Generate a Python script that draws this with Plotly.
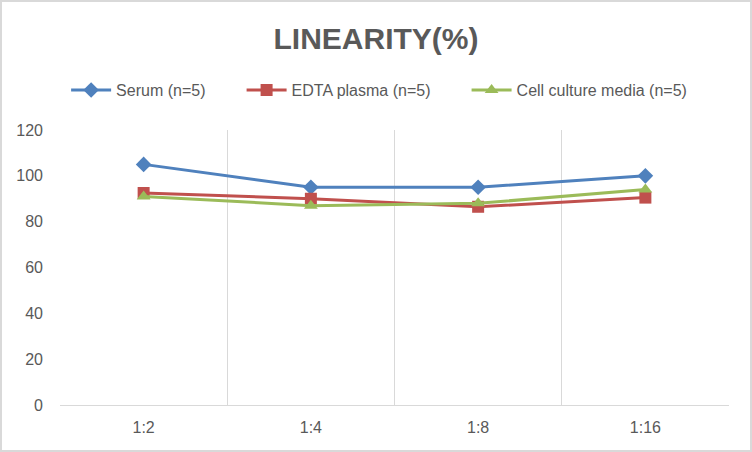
import plotly.graph_objs as go

# dilution points and recovery values
dilutions = ['1:2', '1:4', '1:8', '1:16']
serum = [105, 95, 95, 100]
edta_plasma = [92.5, 90, 86.5, 90.5]
cell_culture = [91, 87, 88, 94]

series_names = ['Serum (n=5)', 'EDTA plasma (n=5)', 'Cell culture media (n=5)']
colors = ['#4F81BD', '#C0504D', '#9BBB59']
symbols = ['diamond', 'square', 'triangle-up']

font_name = 'Liberation Sans, Arial, sans-serif'
pad = '\u00a0' * 7  # extra room between legend entries, like Excel

fig = go.Figure()
for i, (name, vals, col, sym) in enumerate(zip(series_names, [serum, edta_plasma, cell_culture], colors, symbols)):
    fig.add_trace(go.Scatter(
        x=dilutions, y=vals, mode='lines+markers',
        name=name + (pad if i < 2 else ''),
        line=dict(color=col, width=3),
        marker=dict(symbol=sym, size=12, color=col)
    ))

fig.update_layout(
    width=752, height=452,
    paper_bgcolor='white', plot_bgcolor='white',
    margin=dict(l=60, r=23, t=130, b=47),
    font=dict(family=font_name, size=16, color='#595959'),
    title=dict(text='<b>LINEARITY(%)</b>', x=0.5, xanchor='center', y=0.915, yanchor='middle',
               font=dict(family=font_name, size=30, color='#595959')),
    showlegend=True,
    legend=dict(orientation='h', x=0.477, xanchor='center', y=1.145, yanchor='middle',
                font=dict(size=16, color='#595959'), itemwidth=40),
    hovermode='x',
    xaxis=dict(type='category', range=[-0.5, 3.5], tickson='boundaries',
               showgrid=True, gridcolor='#D9D9D9', gridwidth=1,
               showline=True, linecolor='#D9D9D9', linewidth=1,
               ticks='', ticklabelstandoff=8),
    yaxis=dict(range=[0, 120], dtick=20, showgrid=False, zeroline=False,
               showline=False, ticks='', ticklabelstandoff=16),
    shapes=[dict(type='rect', xref='paper', yref='paper',
                 x0=-59.0 / 669, x1=1 + 22.0 / 669, y0=-46.0 / 275, y1=1 + 129.0 / 275,
                 line=dict(color='#D9D9D9', width=2), fillcolor='rgba(0,0,0,0)')]
)

fig.write_html("out.html", config={'displayModeBar': False},
               post_script="document.body.style.margin='0';")
